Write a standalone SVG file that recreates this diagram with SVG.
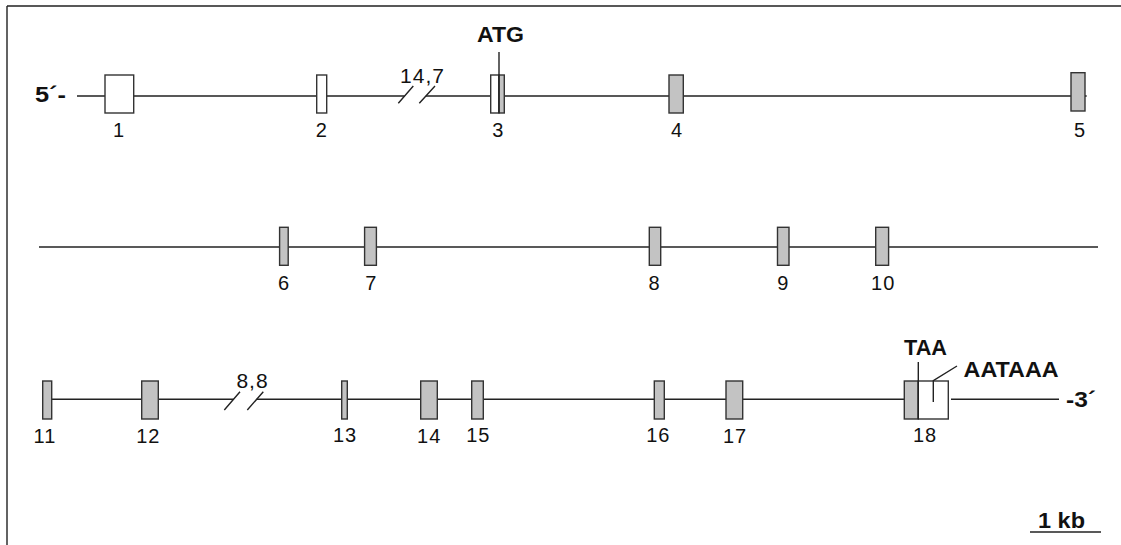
<svg xmlns="http://www.w3.org/2000/svg" width="1121" height="545" viewBox="0 0 1121 545">
<style>
.ln{stroke:#222;stroke-width:1.4;fill:none}
.w{fill:#fff;stroke:#333;stroke-width:1.4}
.g{fill:#c3c3c3;stroke:#333;stroke-width:1.4}
.lab{font-family:"Liberation Sans",Arial,sans-serif;font-size:20px;fill:#111;text-anchor:middle;letter-spacing:1px}
.b{font-family:"Liberation Sans",Arial,sans-serif;font-size:22px;font-weight:bold;fill:#111}
</style>
<rect width="1121" height="545" fill="#fff"/>
<g id="frame">
<path class="ln" d="M7,6 H1121 M7,6 V545" stroke="#333"/>
</g>
<g id="connectors">
<path class="ln" d="M77,96 H404.6 M425.9,96 H1086.7"/>
<path class="ln" d="M398.3,103.3 L413.3,86 M419.3,103.3 L435,86"/>
<path class="ln" d="M39,247 H1098"/>
<path class="ln" d="M52,399.3 H233.5 M256.7,399.3 H905 M951,399.3 H1059"/>
<path class="ln" d="M224.3,410 L240,391.7 M247.3,410 L263.3,391.7"/>
<path class="ln" d="M1030,532 H1101" stroke="#444" stroke-width="1.6"/>
</g>
<g id="labels-ends">
<text class="b" x="35" y="102" textLength="31" lengthAdjust="spacingAndGlyphs">5´-</text>
<text class="b" x="1066" y="407" textLength="30" lengthAdjust="spacingAndGlyphs">-3´</text>
<text class="lab" x="422.5" y="83.3" style="font-size:21px">14,7</text>
<text class="lab" x="252.5" y="388.3" style="font-size:21px">8,8</text>
</g>
<g id="exon1"><rect class="w" x="105" y="75" width="28.7" height="38"/><text class="lab" x="119" y="136.7">1</text></g>
<g id="exon2"><rect class="w" x="316.7" y="75" width="10" height="38"/><text class="lab" x="321.7" y="136.7">2</text></g>
<g id="exon3"><rect class="w" x="490.7" y="75" width="8.3" height="38"/><rect class="g" x="499" y="75" width="5.3" height="38"/><path class="ln" d="M499,52 V113"/><text class="lab" x="498.3" y="136.7">3</text><text class="b" x="477" y="41.7" textLength="47" lengthAdjust="spacingAndGlyphs">ATG</text></g>
<g id="exon4"><rect class="g" x="669" y="75" width="14.3" height="38"/><text class="lab" x="677" y="136.7">4</text></g>
<g id="exon5"><rect class="g" x="1071" y="72.7" width="14" height="38.3"/><text class="lab" x="1080" y="136.7">5</text></g>
<g id="exon6"><rect class="g" x="279.6" y="227.3" width="8.6" height="38"/><text class="lab" x="284" y="290">6</text></g>
<g id="exon7"><rect class="g" x="364.6" y="227.3" width="11.8" height="38"/><text class="lab" x="371.4" y="290">7</text></g>
<g id="exon8"><rect class="g" x="649.3" y="227.3" width="11.4" height="38"/><text class="lab" x="654.6" y="290">8</text></g>
<g id="exon9"><rect class="g" x="777.5" y="227.3" width="11.5" height="38"/><text class="lab" x="783.2" y="290">9</text></g>
<g id="exon10"><rect class="g" x="875.7" y="227.3" width="12.9" height="38"/><text class="lab" x="883.2" y="290">10</text></g>
<g id="exon11"><rect class="g" x="42.7" y="381" width="9" height="38"/><text class="lab" x="45" y="443.3">11</text></g>
<g id="exon12"><rect class="g" x="141.7" y="381" width="16.6" height="38"/><text class="lab" x="148.3" y="443.3">12</text></g>
<g id="exon13"><rect class="g" x="341.7" y="381" width="5.6" height="38"/><text class="lab" x="345" y="441.7">13</text></g>
<g id="exon14"><rect class="g" x="420.7" y="381" width="16.6" height="38"/><text class="lab" x="429.2" y="443.3">14</text></g>
<g id="exon15"><rect class="g" x="471.7" y="381" width="11.6" height="38"/><text class="lab" x="478.3" y="441.7">15</text></g>
<g id="exon16"><rect class="g" x="654.3" y="381" width="10" height="38"/><text class="lab" x="658.3" y="441.7">16</text></g>
<g id="exon17"><rect class="g" x="726" y="381" width="16.7" height="38"/><text class="lab" x="735" y="442.7">17</text></g>
<g id="exon18"><rect class="g" x="904.3" y="381" width="14" height="38"/><rect class="w" x="918.3" y="381" width="30" height="38"/><path class="ln" d="M918.3,362 V419 M933.3,402 V380.7 L957,366"/><text class="lab" x="925" y="441.7">18</text><text class="b" x="904" y="355" textLength="43" lengthAdjust="spacingAndGlyphs">TAA</text><text class="b" x="963.6" y="377.3" textLength="95" lengthAdjust="spacingAndGlyphs">AATAAA</text></g>
<g id="scalebar"><text class="b" x="1038" y="528.3" textLength="47" lengthAdjust="spacingAndGlyphs">1 kb</text></g>
</svg>
